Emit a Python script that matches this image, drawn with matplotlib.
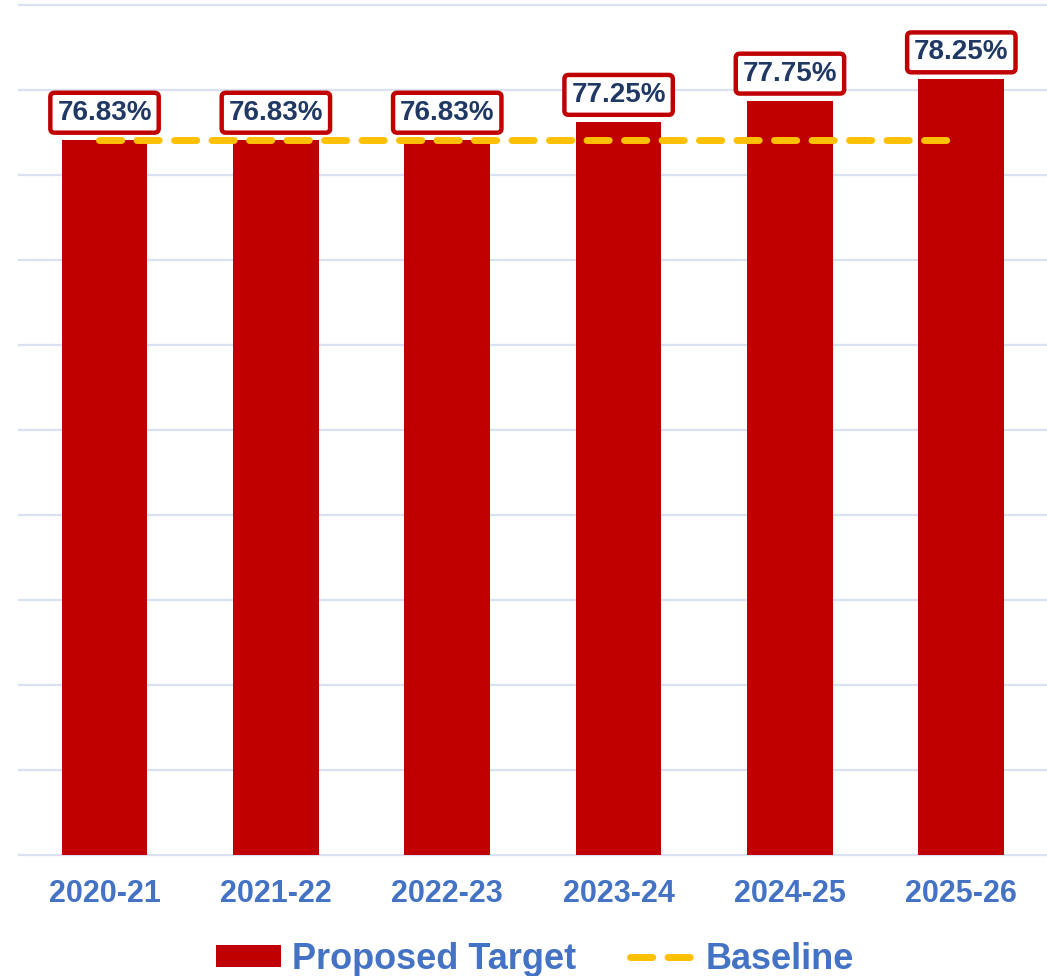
import numpy as np
import matplotlib.pyplot as plt

years = ["2020-21", "2021-22", "2022-23", "2023-24", "2024-25", "2025-26"]
proposed_target = [76.83, 76.83, 76.83, 77.25, 77.75, 78.25]
baseline = [76.83, 76.83, 76.83, 76.83, 76.83, 76.83]

plt.rcParams["font.family"] = ["Liberation Sans", "DejaVu Sans"]
plt.rcParams["font.weight"] = "bold"

fig = plt.figure(figsize=(10.47, 9.76), dpi=100)
ax = fig.add_axes([0.018, 0.124, 0.982, 0.871])

x = np.arange(len(years))
bars = ax.bar(x, proposed_target, width=0.5, color="#C00000", label="Proposed Target", zorder=2)
line, = ax.plot(x - 0.03, baseline, color="#FFC000", lw=5, ls=(0, (3.2, 2.2)),
                dash_capstyle="round", label="Baseline", zorder=3)

for xi, v in zip(x, proposed_target):
    ax.annotate(f"{v:.2f}%", (xi, v), xytext=(0, 10), textcoords="offset points",
                ha="center", va="bottom", fontsize=20, fontweight="bold", color="#1F3864",
                bbox=dict(boxstyle="round,pad=0.25,rounding_size=0.15", fc="white",
                          ec="#C00000", lw=3.2), zorder=4)

ax.set_ylim(60, 80)
ax.set_xlim(-0.5, 5.5)
ax.set_yticks(np.arange(60, 81, 2))
ax.yaxis.grid(True, color="#D9E1F2", lw=1.6, zorder=0)
for gl in ax.get_ygridlines():
    gl.set_clip_on(False)
ax.set_axisbelow(True)
ax.tick_params(axis="y", left=False, labelleft=False)
ax.tick_params(axis="x", bottom=False, pad=14)
ax.set_xticks(x)
ax.set_xticklabels(years, fontsize=22, fontweight="bold", color="#4472C4")
for s in ax.spines.values():
    s.set_visible(False)

leg = ax.legend([bars, line], ["Proposed Target", "Baseline"], loc="center",
                bbox_to_anchor=(0.502, -0.123), ncol=2, frameon=False,
                fontsize=26, handlelength=1.8, handleheight=0.55, columnspacing=1.5,
                handletextpad=0.3, borderpad=0.2)
for t in leg.get_texts():
    t.set_color("#4472C4")
    t.set_fontweight("bold")

fig.savefig("out.png", dpi=100)
